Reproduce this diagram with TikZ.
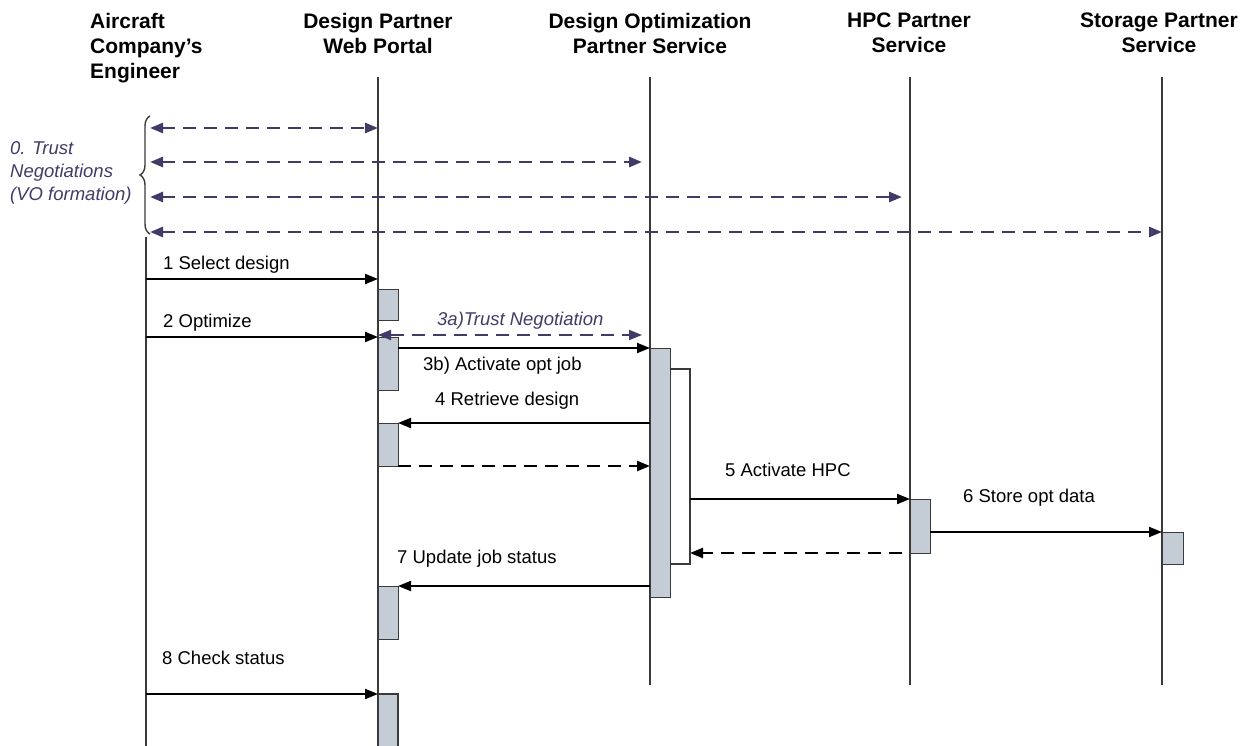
\documentclass[tikz,border=0pt]{standalone}
\usepackage{fontspec}
\setmainfont{Liberation Sans}
\usetikzlibrary{arrows.meta,decorations.pathreplacing}
\definecolor{trust}{HTML}{433A68}
\definecolor{actfill}{HTML}{C4CCD6}
\definecolor{lifegray}{HTML}{3A3A3A}
\begin{document}
\begin{tikzpicture}[x=1pt,y=-1pt,
  head/.style={font=\fontsize{21}{25}\selectfont\bfseries, align=center, anchor=north, inner sep=0pt},
  msg/.style={font=\fontsize{18.5}{22}\selectfont, anchor=base west, inner sep=0pt},
  trustlbl/.style={msg, font=\fontsize{18.5}{22}\selectfont\itshape, text=trust},
  life/.style={draw=lifegray, line width=1.3pt},
  act/.style={draw=lifegray, fill=actfill, line width=1.4pt, inner sep=0pt, minimum width=20pt, anchor=north west},
  call/.style={line width=1.9pt, -{Triangle[length=13pt,width=10pt]}},
  reply/.style={call, line width=2.4pt, dash pattern=on 13pt off 8pt},
  trustarrow/.style={draw=trust, line width=2.7pt, dash pattern=on 13pt off 8pt,
    {Triangle[length=13pt,width=10pt]}-{Triangle[length=13pt,width=10pt]}},
]
\useasboundingbox (0,0) rectangle (1247,746);

% participants
\node[head, anchor=north west, align=left] (eng) at (90,12.7) {Aircraft\\Company’s\\Engineer};
\node[head] (portal) at (378,12.7) {Design Partner\\Web Portal};
\node[head] (opt) at (650,12.7) {Design Optimization\\Partner Service};
\node[head] (hpc) at (909,12.7) {HPC Partner\\Service};
\node[head] (stor) at (1159,12.7) {Storage Partner\\Service};

% lifelines
\coordinate (engTop) at (146,237);  \coordinate (engBot) at (146,746);
\coordinate (porTop) at (378,77);   \coordinate (porBot) at (378,746);
\coordinate (optTop) at (650,77);   \coordinate (optBot) at (650,685);
\coordinate (hpcTop) at (910,77);   \coordinate (hpcBot) at (910,685);
\coordinate (stoTop) at (1162,77);  \coordinate (stoBot) at (1162,685);
\foreach \t/\b in {engTop/engBot,porTop/porBot,optTop/optBot,hpcTop/hpcBot,stoTop/stoBot}
  \draw[life] (\t) -- (\b);

% activation bars
\node[act, minimum height=31pt] (a1) at (378,289) {};
\node[act, minimum height=53pt] (a2) at (378,337) {};
\node[act, minimum height=43pt] (a3) at (378,423) {};
\node[act, minimum height=53pt] (a4) at (378,586) {};
\fill[actfill] (378,694) rectangle (398,747);
\draw[draw=lifegray, line width=1.4pt] (378,747) -- (378,694) -- (398,694) -- (398,747);
\node[act, minimum height=249pt] (optAct) at (650,348) {};
\draw[draw=lifegray, line width=1.3pt] (670,369) -- (690,369) -- (690,564) -- (670,564);
\node[act, minimum height=54pt] (hpcAct) at (910,499) {};
\node[act, minimum width=21pt, minimum height=32pt] (stoAct) at (1162,532) {};

% trust negotiations (VO formation)
\coordinate (t0) at (150,128);  \coordinate (t1) at (378,128);
\coordinate (u0) at (150,162);  \coordinate (u1) at (642,162);
\coordinate (v0) at (150,197);  \coordinate (v1) at (902,197);
\coordinate (w0) at (150,232);  \coordinate (w1) at (1162,232);
\draw[trustarrow] (t0) -- (t1);
\draw[trustarrow] (u0) -- (u1);
\draw[trustarrow] (v0) -- (v1);
\draw[trustarrow] (w0) -- (w1);
\coordinate (brB) at (150,234); \coordinate (brT) at (150,116);
\draw[draw=lifegray, line width=1.4pt, decorate, decoration={brace, amplitude=10pt}] (brB) -- (brT);
\node[trustlbl, font=\fontsize{18.5}{23}\selectfont\itshape, anchor=north west, align=left] (tn) at (10,141)
  {0. Trust\\Negotiations\\(VO formation)};

% messages
\coordinate (m1a) at (146,279); \coordinate (m1b) at (378,279);
\draw[call] (m1a) -- (m1b);
\node[msg] (l1) at (163,269) {1 Select design};

\coordinate (m2a) at (146,337); \coordinate (m2b) at (378,337);
\draw[call] (m2a) -- (m2b);
\node[msg] (l2) at (163,327) {2 Optimize};

\coordinate (m3a) at (378,335); \coordinate (m3b) at (642,335);
\draw[trustarrow, line width=1.9pt] (m3a) -- (m3b);
\node[trustlbl] (l3a) at (437,325) {3a)Trust Negotiation};

\coordinate (m3c) at (398,348); \coordinate (m3d) at (650,348);
\draw[call] (m3c) -- (m3d);
\node[msg] (l3b) at (423,370) {3b) Activate opt job};

\coordinate (m4a) at (650,423); \coordinate (m4b) at (398,423);
\draw[call] (m4a) -- (m4b);
\node[msg] (l4) at (435,405) {4 Retrieve design};

\coordinate (r4a) at (398,466); \coordinate (r4b) at (650,466);
\draw[reply] (r4a) -- (r4b);

\coordinate (m5a) at (690,499); \coordinate (m5b) at (910,499);
\draw[call] (m5a) -- (m5b);
\node[msg] (l5) at (725,476) {5 Activate HPC};

\coordinate (m6a) at (930,532); \coordinate (m6b) at (1162,532);
\draw[call] (m6a) -- (m6b);
\node[msg] (l6) at (963,502) {6 Store opt data};

\coordinate (r5a) at (902,553); \coordinate (r5b) at (690,553);
\draw[reply] (r5a) -- (r5b);

\coordinate (m7a) at (650,586); \coordinate (m7b) at (398,586);
\draw[call] (m7a) -- (m7b);
\node[msg] (l7) at (397,563) {7 Update job status};

\coordinate (m8a) at (146,694); \coordinate (m8b) at (378,694);
\draw[call] (m8a) -- (m8b);
\node[msg] (l8) at (162,664) {8 Check status};
\end{tikzpicture}
\end{document}
